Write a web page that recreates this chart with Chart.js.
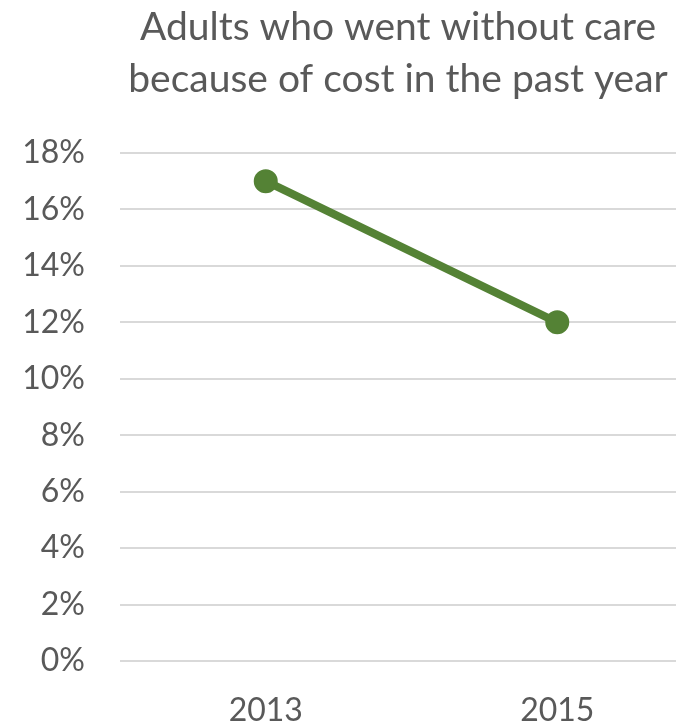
<!DOCTYPE html>
<html lang="en">
<head>
    <meta charset="UTF-8">
    <title>Adults who went without care because of cost</title>
    <script src="https://cdn.jsdelivr.net/npm/chart.js"></script>
    <style>
        html, body {
            margin: 0;
            padding: 0;
            background: #fff;
            overflow: hidden;
        }
        .wrap {
            width: 796px;
            height: 727px;
        }
    </style>
</head>
<body>
    <div class="wrap">
        <canvas id="cost-chart" width="796" height="727"></canvas>
    </div>

    <script>
        // survey years and share of adults skipping care due to cost (%)
        const years = ['2013', '2015'];
        const withoutCare = [17, 12];
        const titleLines = ['Adults who went without care', 'because of cost in the past year'];

        const gray = '#595959';
        const green = '#548235';

        const ctx = document.getElementById('cost-chart').getContext('2d');
        new Chart(ctx, {
            type: 'line',
            data: {
                labels: years,
                datasets: [{
                    label: 'Went without care',
                    data: withoutCare,
                    borderColor: green,
                    backgroundColor: green,
                    borderWidth: 8,
                    pointRadius: 11,
                    pointBorderWidth: 2,
                    pointBackgroundColor: green,
                    pointBorderColor: green,
                    tension: 0
                }]
            },
            options: {
                responsive: false,
                animation: false,
                layout: { padding: 0 },
                plugins: {
                    legend: { display: false },
                    tooltip: { enabled: false },
                    title: {
                        display: true,
                        text: titleLines,
                        color: gray,
                        font: { family: 'Lato', size: 39, weight: 'normal', lineHeight: 1.32 },
                        padding: { top: 2, bottom: 48 }
                    }
                },
                scales: {
                    x: {
                        offset: true,
                        grid: { display: false, drawTicks: false },
                        border: { display: false },
                        ticks: {
                            color: gray,
                            padding: 30,
                            font: { family: 'Lato', size: 32 }
                        },
                        afterFit: scale => { scale.height = 66; }
                    },
                    y: {
                        min: 0,
                        max: 18,
                        grid: { color: '#d9d9d9', lineWidth: 2, drawTicks: false },
                        border: { display: false },
                        ticks: {
                            stepSize: 2,
                            color: gray,
                            padding: 35,
                            font: { family: 'Lato', size: 32 },
                            callback: v => v + '%'
                        },
                        afterFit: scale => { scale.width = 120; }
                    },
                    // empty right-hand gutter so the plot stops short of the edge
                    gutter: {
                        type: 'linear',
                        position: 'right',
                        grid: { display: false, drawTicks: false },
                        border: { display: false },
                        ticks: { display: false },
                        afterFit: scale => { scale.width = 93; }
                    }
                }
            }
        });
    </script>
</body>
</html>
